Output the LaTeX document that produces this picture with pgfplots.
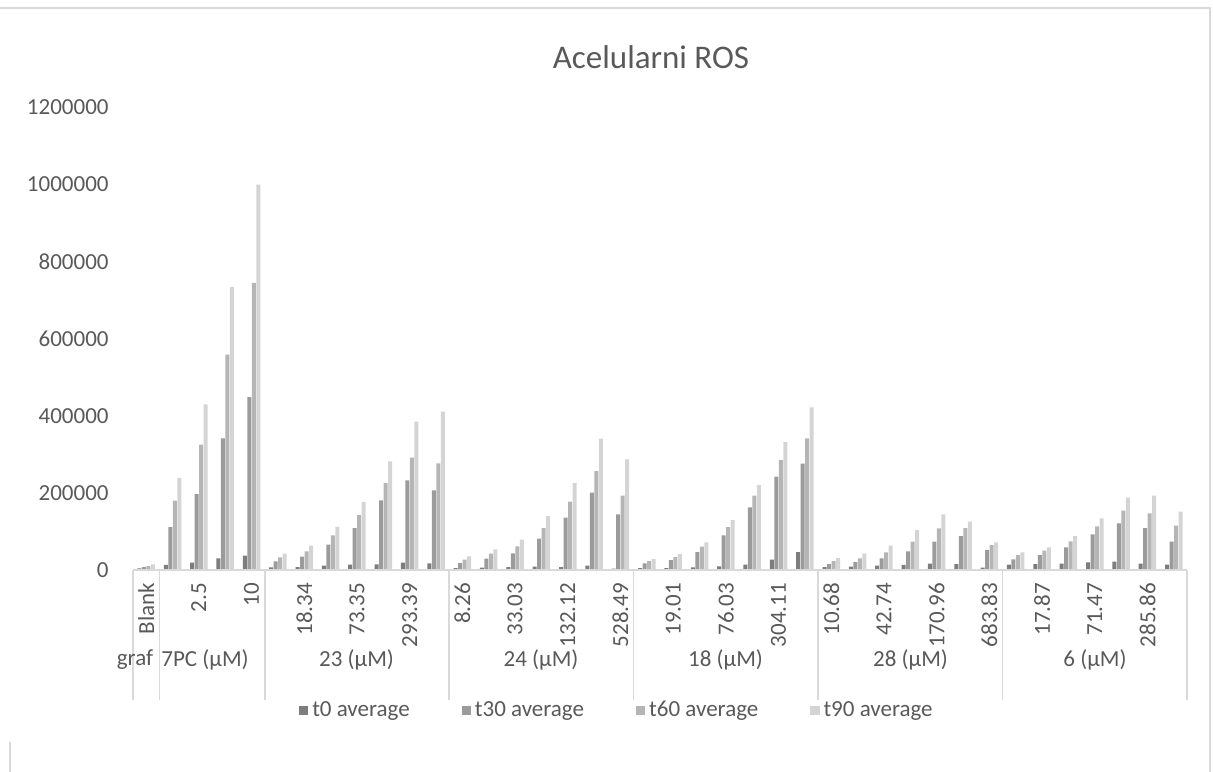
\documentclass[border=0pt]{standalone}
\usepackage{pgfplots}
\usepackage{pgfplotstable}
\pgfplotsset{compat=1.18}
\usepackage{fontspec}
\setmainfont{Carlito}
\definecolor{txt}{HTML}{595959}
\definecolor{axln}{HTML}{D9D9D9}
\definecolor{cA}{HTML}{7D7D7D}
\definecolor{cB}{HTML}{9B9B9B}
\definecolor{cC}{HTML}{B5B5B5}
\definecolor{cD}{HTML}{D4D4D4}
\pgfplotstableread{
x t0 t30 t60 t90
0 4300 7800 10400 14700
1 13000 111000 180000 239000
2 19000 197000 325000 429000
3 30000 341000 558000 733000
4 37000 448000 744000 999000
5 7000 22500 32800 42300
6 7800 34500 48400 63000
7 11200 65600 89800 112000
8 13800 108800 142500 176200
9 14700 180500 225400 281600
10 19000 232300 291000 384300
11 17300 206400 276400 410300
12 5200 18100 26800 35400
13 6000 29400 42300 53500
14 7800 43200 61300 78600
15 8600 81200 108800 139900
16 7800 135600 177100 225400
17 11200 200400 256500 340300
18 3500 144200 192600 286700
19 5200 17300 23300 28500
20 5200 25900 33700 41500
21 6900 46600 60500 71700
22 9500 89800 111400 129600
23 13800 162400 192600 220200
24 26800 241800 285000 331700
25 46600 275500 341100 421500
26 7800 15500 23300 31100
27 8600 20700 30200 42300
28 11200 30200 45800 63000
29 13000 48400 73400 103600
30 16400 73400 108000 144200
31 15500 88100 108800 125200
32 6000 51800 64800 71700
33 13800 27600 38900 45800
34 15500 38900 50100 58700
35 16400 58700 74300 88100
36 19900 92400 113100 133900
37 21600 120900 153700 187400
38 16400 108800 146800 192600
39 13800 73400 114900 151100
}\datatable
\newcommand{\tickfont}{\fontsize{11.5}{13.8}\selectfont}
\begin{document}
\begin{tikzpicture}
\useasboundingbox (0,0) rectangle (606.5pt,-385.5pt);
\draw[axln, line width=0.75pt] (0pt,-4pt) -- (605pt,-4pt) -- (605pt,-386pt);
\draw[axln, line width=0.75pt] (5pt,-371pt) -- (5pt,-386pt);
\node[text=txt, font=\fontsize{16.5}{20}\selectfont] at (325.5pt,-28.5pt) {Acelularni ROS};
\begin{axis}[
  at={(66.5pt,-285pt)}, anchor=south west,
  scale only axis, width=527pt, height=231.5pt,
  xmin=-0.5, xmax=39.5, ymin=0, ymax=1200000,
  ybar=0.25pt, bar width=2pt,
  axis line style={draw=none},
  major tick length=0pt,
  clip=false,
  xtick={0,...,39},
  xticklabels={Blank,{},2.5,{},10,{},18.34,{},73.35,{},293.39,{},8.26,{},33.03,{},132.12,{},528.49,{},19.01,{},76.03,{},304.11,{},10.68,{},42.74,{},170.96,{},683.83,{},17.87,{},71.47,{},285.86,{}},
  xticklabel style={rotate=90, anchor=east, font=\tickfont, text=txt},
  xticklabel shift=3pt,
  ytick={0,200000,...,1200000},
  scaled y ticks=false,
  yticklabel style={/pgf/number format/fixed, /pgf/number format/1000 sep={}, /pgf/number format/assume math mode=true, font=\tickfont, text=txt, inner sep=0pt, anchor=east},
  yticklabel shift=12pt,
  legend columns=4,
  legend style={at={(0.46,-0.304)}, anchor=center, draw=none, fill=none, font=\tickfont, text=txt,
    nodes={text height=8pt, text depth=2.5pt},
    /tikz/every even column/.append style={column sep=24pt}},
  legend image code/.code={\fill[#1] (0pt,-2.3pt) rectangle (4.6pt,2.3pt);},
]
\addplot[fill=cA, draw=none] table[x=x, y=t0] {\datatable};
\addplot[fill=cB, draw=none] table[x=x, y=t30] {\datatable};
\addplot[fill=cC, draw=none] table[x=x, y=t60] {\datatable};
\addplot[fill=cD, draw=none] table[x=x, y=t90] {\datatable};
\legend{t0 average, t30 average, t60 average, t90 average}
\draw[axln, line width=0.75pt] (axis cs:-0.5,0) -- (axis cs:39.5,0);
\draw[axln, line width=0.75pt] (axis cs:-0.5,0) -- ++(0pt,-65pt);
\draw[axln, line width=0.75pt] (axis cs:0.5,0) -- ++(0pt,-65pt);
\draw[axln, line width=0.75pt] (axis cs:4.5,0) -- ++(0pt,-65pt);
\draw[axln, line width=0.75pt] (axis cs:11.5,0) -- ++(0pt,-65pt);
\draw[axln, line width=0.75pt] (axis cs:18.5,0) -- ++(0pt,-65pt);
\draw[axln, line width=0.75pt] (axis cs:25.5,0) -- ++(0pt,-65pt);
\draw[axln, line width=0.75pt] (axis cs:32.5,0) -- ++(0pt,-65pt);
\draw[axln, line width=0.75pt] (axis cs:39.5,0) -- ++(0pt,-65pt);
\end{axis}
\begin{scope}[every node/.style={text=txt, font=\tickfont}]
\node at (67.5pt,-330pt) {graf};
\node at (102.5pt,-330pt) {7PC (µM)};
\node at (178.25pt,-330pt) {23 (µM)};
\node at (270.5pt,-330pt) {24 (µM)};
\node at (362.75pt,-330pt) {18 (µM)};
\node at (455.25pt,-330pt) {28 (µM)};
\node at (547.5pt,-330pt) {6 (µM)};
\end{scope}
\end{tikzpicture}
\end{document}
